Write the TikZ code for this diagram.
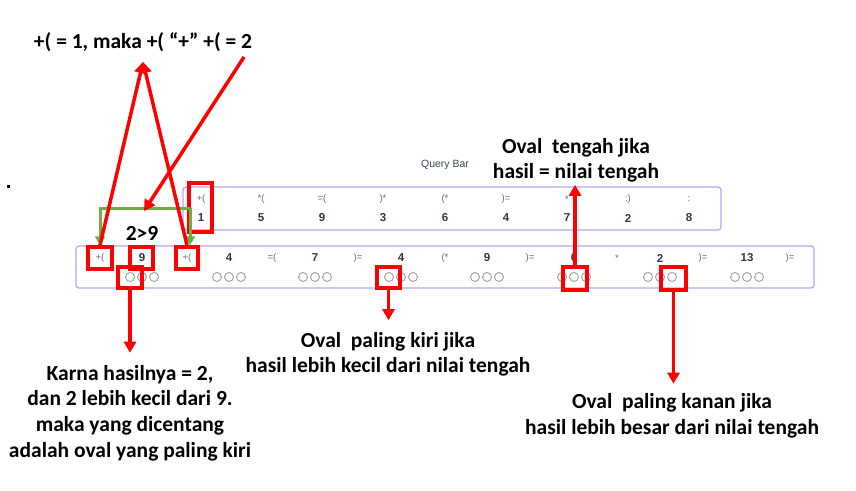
\documentclass[tikz,border=0pt]{standalone}
\usepackage{fontspec}
\setmainfont{Carlito}
\newfontfamily\uifont{Liberation Sans}
\usetikzlibrary{arrows.meta}
\definecolor{redm}{RGB}{255,0,0}
\definecolor{grn}{RGB}{112,173,71}
\definecolor{barline}{RGB}{185,165,240}
\definecolor{tok}{RGB}{105,105,110}
\definecolor{num}{RGB}{45,55,72}
\definecolor{ovalc}{RGB}{160,160,160}
\definecolor{qb}{RGB}{60,70,90}
\begin{document}
\begin{tikzpicture}[x=1pt,y=-1pt,
 lbl/.style={font=\bfseries\fontsize{21.5}{25.5}\selectfont, align=center, inner sep=0},
 tokn/.style={font=\uifont\fontsize{9.5}{10}\selectfont, text=tok, inner sep=0},
 numn/.style={font=\uifont\bfseries\fontsize{11.5}{12}\selectfont, text=num, inner sep=0},
 bar/.style={draw=barline, line width=1.2pt, rounded corners=3pt},
 redbox/.style={draw=redm, line width=3.5pt, inner sep=0, rectangle},
 redarrow/.style={draw=redm, line width=3.5pt, -{Triangle[length=11pt,width=12pt]}},
 grnarrow/.style={draw=grn, line width=3pt, -{Triangle[length=9pt,width=10pt]}},
 ov/.style={circle, draw=ovalc, line width=0.9pt, minimum size=9pt, inner sep=0}
]
\path[use as bounding box] (0,0) rectangle (856,490);

% dot
\node[fill=black, minimum size=3pt, inner sep=0] (dot) at (8,186) {};

% query bar
\node[font=\uifont\fontsize{10.5}{12}\selectfont, text=qb, inner sep=0] (qbar) at (445,165) {Query Bar};
\draw[bar] (183,187) rectangle (721,230);
\node[tokn] (qt1) at (201,199) {+(};
\node[tokn] (qt2) at (261,199) {*(};
\node[tokn] (qt3) at (322,199) {=(};
\node[tokn] (qt4) at (383,199) {)*};
\node[tokn] (qt5) at (445,199) {(*};
\node[tokn] (qt6) at (506,199) {)=};
\node[tokn] (qt7) at (567,199) {*};
\node[tokn] (qt8) at (628,199) {:)};
\node[tokn] (qt9) at (689,199) {:};
\foreach \n/\x [count=\i] in {1/201, 5/261, 9/322, 3/383, 6/445, 4/506, 7/567, 2/628, 8/689}{
  \node[numn] (qn\i) at (\x,218) {\n};
}

% second bar
\draw[bar] (76,246) rectangle (814,288);
\node[tokn] (bt1) at (100,258) {+(};
\node[tokn] (bt2) at (187,258) {+(};
\node[tokn] (bt3) at (272,258) {=(};
\node[tokn] (bt4) at (358,258) {)=};
\node[tokn] (bt5) at (445,258) {(*};
\node[tokn] (bt6) at (530,258) {)=};
\node[tokn] (bt7) at (617,258) {*};
\node[tokn] (bt8) at (703,258) {)=};
\node[tokn] (bt9) at (790,258) {)=};
\foreach \n/\x [count=\i] in {9/142, 4/229, 7/315, 4/401, 9/487, 6/574, 2/660, 13/747}{
  \node[numn] (bn\i) at (\x,258) {\n};
  \node[ov] (ba\i) at (\x-12,277) {};
  \node[ov] (bb\i) at (\x,277) {};
  \node[ov] (bc\i) at (\x+12,277) {};
}

% red boxes
\node[redbox, minimum width=23pt, minimum height=49pt] (q) at (200.5,207.5) {};
\node[redbox, minimum width=24pt, minimum height=22pt] (a1) at (100,258) {};
\node[redbox, minimum width=23pt, minimum height=22pt] (a2) at (141.5,258) {};
\node[redbox, minimum width=22pt, minimum height=22pt] (a3) at (187,258) {};
\node[redbox, minimum width=24pt, minimum height=21pt] (o1) at (130,277.5) {};
\node[redbox, minimum width=23pt, minimum height=21pt] (o2) at (388.5,277.5) {};
\node[redbox, minimum width=24pt, minimum height=23pt] (o3) at (575,278.5) {};
\node[redbox, minimum width=25pt, minimum height=23pt] (o4) at (673.5,278.5) {};

% labels
\node[lbl] (top) at (143,42) {+( = 1, maka +( “+” +( = 2};
\node[lbl] (gt) at (142,233) {2>9};
\node[lbl] (tengah) at (576,160.5) {Oval\ \ tengah jika\\hasil = nilai tengah};
\node[lbl] (kiri) at (388,354.5) {Oval\ \ paling kiri jika\\hasil lebih kecil dari nilai tengah};
\node[lbl] (kanan) at (672,416) {Oval\ \ paling kanan jika\\hasil lebih besar dari nilai tengah};
\node[lbl, font=\bfseries\fontsize{21.5}{25.8}\selectfont] (karna) at (130,413) {Karna hasilnya = 2,\\dan 2 lebih kecil dari 9.\\maka yang dicentang\\adalah oval yang paling kiri};

% green arrows
\coordinate (gq) at (190,208);
\draw[grnarrow] (gq) -| (a1.north);
\draw[grnarrow] (gq) -- (gq |- a3.north);

% red arrows
\coordinate (apex) at (143,62);
\coordinate (dstart) at (244,57);
\coordinate (dend) at (144,211);
\draw[redarrow] (a1.north) -- (apex);
\draw[redarrow] (a3.north) -- (apex);
\draw[redarrow] (dstart) -- (dend);
\draw[redarrow, shorten >=12pt] (o1.south) -- (o1.south |- karna.north);
\draw[redarrow, shorten >=12pt] (o2.south) -- (o2.south |- kiri.north);
\draw[redarrow, shorten >=2pt] (o3.north) -- (o3.north |- tengah.south);
\draw[redarrow, shorten >=10pt] (o4.south) -- (o4.south |- kanan.north);
\end{tikzpicture}
\end{document}
